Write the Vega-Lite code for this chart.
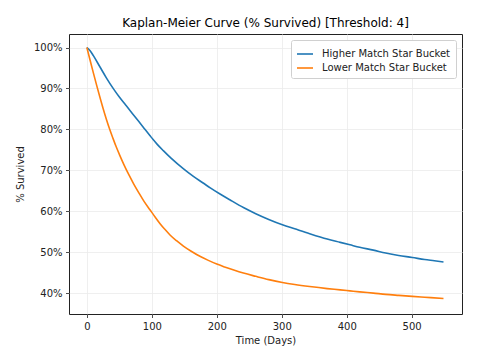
{
  "$schema": "https://vega.github.io/schema/vega-lite/v6.json",
  "width": 393,
  "height": 280,
  "autosize": {"type": "none"},
  "padding": {"left": 69, "top": 34, "right": 18, "bottom": 50},
  "background": "white",
  "title": {
    "text": "Kaplan-Meier Curve (% Survived) [Threshold: 4]",
    "font": "DejaVu Sans",
    "fontSize": 12,
    "fontWeight": "normal",
    "color": "#000000",
    "offset": 4
  },
  "config": {
    "view": {"stroke": "#222222", "strokeWidth": 1},
    "axis": {
      "labelFont": "DejaVu Sans",
      "titleFont": "DejaVu Sans",
      "labelFontSize": 10,
      "titleFontSize": 10,
      "titleFontWeight": "normal",
      "labelColor": "#222222",
      "titleColor": "#222222",
      "domain": false,
      "tickColor": "#222222",
      "tickSize": 3.5,
      "tickWidth": 0.8,
      "labelPadding": 3.5,
      "gridColor": "#ebebeb",
      "gridWidth": 0.8
    },
    "legend": {
      "labelFont": "DejaVu Sans",
      "labelFontSize": 10,
      "labelColor": "#222222"
    }
  },
  "data": {
    "values": [
      {"day": 0, "survived": 100, "group": "Higher Match Star Bucket"},
      {"day": 5, "survived": 99.2, "group": "Higher Match Star Bucket"},
      {"day": 10, "survived": 98.0, "group": "Higher Match Star Bucket"},
      {"day": 20, "survived": 95.3, "group": "Higher Match Star Bucket"},
      {"day": 30, "survived": 92.6, "group": "Higher Match Star Bucket"},
      {"day": 41, "survived": 89.9, "group": "Higher Match Star Bucket"},
      {"day": 50, "survived": 87.9, "group": "Higher Match Star Bucket"},
      {"day": 60, "survived": 85.9, "group": "Higher Match Star Bucket"},
      {"day": 70, "survived": 83.9, "group": "Higher Match Star Bucket"},
      {"day": 80, "survived": 81.9, "group": "Higher Match Star Bucket"},
      {"day": 90, "survived": 79.9, "group": "Higher Match Star Bucket"},
      {"day": 97, "survived": 78.5, "group": "Higher Match Star Bucket"},
      {"day": 102, "survived": 77.5, "group": "Higher Match Star Bucket"},
      {"day": 108, "survived": 76.4, "group": "Higher Match Star Bucket"},
      {"day": 117.7, "survived": 74.8, "group": "Higher Match Star Bucket"},
      {"day": 130, "survived": 72.9, "group": "Higher Match Star Bucket"},
      {"day": 148.4, "survived": 70.4, "group": "Higher Match Star Bucket"},
      {"day": 164, "survived": 68.5, "group": "Higher Match Star Bucket"},
      {"day": 179, "survived": 66.9, "group": "Higher Match Star Bucket"},
      {"day": 190, "survived": 65.7, "group": "Higher Match Star Bucket"},
      {"day": 205, "survived": 64.2, "group": "Higher Match Star Bucket"},
      {"day": 220, "survived": 62.8, "group": "Higher Match Star Bucket"},
      {"day": 241, "survived": 60.9, "group": "Higher Match Star Bucket"},
      {"day": 260, "survived": 59.4, "group": "Higher Match Star Bucket"},
      {"day": 280, "survived": 58.0, "group": "Higher Match Star Bucket"},
      {"day": 301, "survived": 56.7, "group": "Higher Match Star Bucket"},
      {"day": 320, "survived": 55.7, "group": "Higher Match Star Bucket"},
      {"day": 343, "survived": 54.5, "group": "Higher Match Star Bucket"},
      {"day": 370, "survived": 53.2, "group": "Higher Match Star Bucket"},
      {"day": 390, "survived": 52.4, "group": "Higher Match Star Bucket"},
      {"day": 405, "survived": 51.8, "group": "Higher Match Star Bucket"},
      {"day": 420, "survived": 51.2, "group": "Higher Match Star Bucket"},
      {"day": 441, "survived": 50.5, "group": "Higher Match Star Bucket"},
      {"day": 460, "survived": 49.8, "group": "Higher Match Star Bucket"},
      {"day": 480, "survived": 49.2, "group": "Higher Match Star Bucket"},
      {"day": 501, "survived": 48.7, "group": "Higher Match Star Bucket"},
      {"day": 520, "survived": 48.2, "group": "Higher Match Star Bucket"},
      {"day": 535, "survived": 47.9, "group": "Higher Match Star Bucket"},
      {"day": 549, "survived": 47.6, "group": "Higher Match Star Bucket"},
      {"day": 0, "survived": 100, "group": "Lower Match Star Bucket"},
      {"day": 5, "survived": 96.9, "group": "Lower Match Star Bucket"},
      {"day": 10, "survived": 93.8, "group": "Lower Match Star Bucket"},
      {"day": 15, "survived": 90.8, "group": "Lower Match Star Bucket"},
      {"day": 20, "survived": 87.9, "group": "Lower Match Star Bucket"},
      {"day": 25, "survived": 85.1, "group": "Lower Match Star Bucket"},
      {"day": 30, "survived": 82.5, "group": "Lower Match Star Bucket"},
      {"day": 35, "survived": 80.1, "group": "Lower Match Star Bucket"},
      {"day": 40, "survived": 77.9, "group": "Lower Match Star Bucket"},
      {"day": 45, "survived": 75.8, "group": "Lower Match Star Bucket"},
      {"day": 50, "survived": 73.9, "group": "Lower Match Star Bucket"},
      {"day": 57, "survived": 71.4, "group": "Lower Match Star Bucket"},
      {"day": 65, "survived": 68.8, "group": "Lower Match Star Bucket"},
      {"day": 72, "survived": 66.7, "group": "Lower Match Star Bucket"},
      {"day": 80, "survived": 64.5, "group": "Lower Match Star Bucket"},
      {"day": 88, "survived": 62.4, "group": "Lower Match Star Bucket"},
      {"day": 97.4, "survived": 60.3, "group": "Lower Match Star Bucket"},
      {"day": 105, "survived": 58.6, "group": "Lower Match Star Bucket"},
      {"day": 113, "survived": 56.9, "group": "Lower Match Star Bucket"},
      {"day": 120, "survived": 55.6, "group": "Lower Match Star Bucket"},
      {"day": 128, "survived": 54.2, "group": "Lower Match Star Bucket"},
      {"day": 138, "survived": 52.8, "group": "Lower Match Star Bucket"},
      {"day": 148.6, "survived": 51.5, "group": "Lower Match Star Bucket"},
      {"day": 160, "survived": 50.3, "group": "Lower Match Star Bucket"},
      {"day": 174, "survived": 49.0, "group": "Lower Match Star Bucket"},
      {"day": 187, "survived": 48.0, "group": "Lower Match Star Bucket"},
      {"day": 200, "survived": 47.1, "group": "Lower Match Star Bucket"},
      {"day": 212, "survived": 46.4, "group": "Lower Match Star Bucket"},
      {"day": 225, "survived": 45.7, "group": "Lower Match Star Bucket"},
      {"day": 241, "survived": 44.9, "group": "Lower Match Star Bucket"},
      {"day": 260, "survived": 44.1, "group": "Lower Match Star Bucket"},
      {"day": 280, "survived": 43.3, "group": "Lower Match Star Bucket"},
      {"day": 301, "survived": 42.6, "group": "Lower Match Star Bucket"},
      {"day": 320, "survived": 42.1, "group": "Lower Match Star Bucket"},
      {"day": 343, "survived": 41.6, "group": "Lower Match Star Bucket"},
      {"day": 370, "survived": 41.1, "group": "Lower Match Star Bucket"},
      {"day": 390, "survived": 40.8, "group": "Lower Match Star Bucket"},
      {"day": 405, "survived": 40.55, "group": "Lower Match Star Bucket"},
      {"day": 420, "survived": 40.3, "group": "Lower Match Star Bucket"},
      {"day": 441, "survived": 40.0, "group": "Lower Match Star Bucket"},
      {"day": 460, "survived": 39.7, "group": "Lower Match Star Bucket"},
      {"day": 480, "survived": 39.45, "group": "Lower Match Star Bucket"},
      {"day": 501, "survived": 39.2, "group": "Lower Match Star Bucket"},
      {"day": 520, "survived": 39.0, "group": "Lower Match Star Bucket"},
      {"day": 549, "survived": 38.7, "group": "Lower Match Star Bucket"}
    ]
  },
  "mark": {"type": "line", "strokeWidth": 1.6, "interpolate": "monotone"},
  "encoding": {
    "x": {
      "field": "day",
      "type": "quantitative",
      "scale": {"domain": [-27.5, 577.5], "nice": false, "zero": false},
      "axis": {"title": "Time (Days)", "values": [0, 100, 200, 300, 400, 500], "titlePadding": 4}
    },
    "y": {
      "field": "survived",
      "type": "quantitative",
      "scale": {"domain": [34.9, 103.3], "nice": false, "zero": false},
      "axis": {
        "title": "% Survived",
        "values": [40, 50, 60, 70, 80, 90, 100],
        "labelExpr": "datum.value + '%'",
        "titlePadding": 8
      }
    },
    "color": {
      "field": "group",
      "type": "nominal",
      "scale": {"domain": ["Higher Match Star Bucket", "Lower Match Star Bucket"], "range": ["#1f77b4", "#ff7f0e"]},
      "legend": {
        "title": null,
        "orient": "none",
        "legendX": 222,
        "legendY": 6,
        "symbolType": "stroke",
        "symbolSize": 256,
        "symbolStrokeWidth": 1.6,
        "labelOffset": 8,
        "rowPadding": 0,
        "padding": 5,
        "fillColor": "white",
        "strokeColor": "#d0d0d0",
        "cornerRadius": 2
      }
    }
  }
}
